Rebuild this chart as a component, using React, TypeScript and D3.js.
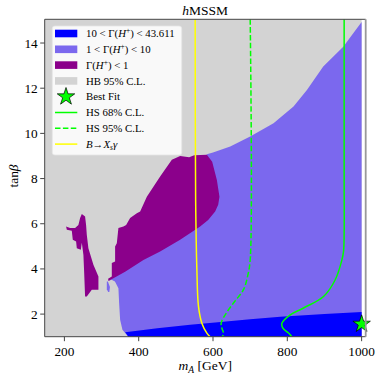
import React from 'react';
import * as d3 from 'd3';

type Pt = [number, number];

const width = 381;
const height = 382;
const margin = { top: 19.3, right: 15.3, bottom: 45.3, left: 44.7 };

const xTicks = [200, 400, 600, 800, 1000];
const yTicks = [2, 4, 6, 8, 10, 12, 14];

// HB 95% C.L. excluded (grey background)
const hbRegion: Pt[] = [[147, 1], [147, 15.05], [1000, 15.05], [1000, 1]];

// 1 < Gamma(H+) < 10
const midWidth: Pt[] = [
  [1000, 1], [1000, 14.93], [950.6, 13.84], [896.7, 12.96], [852.8, 11.92], [816.7, 11.19],
  [762.9, 10.45], [700, 9.86], [646.4, 9.42], [600, 9.15], [583.5, 9.08],
  [570, 8.5], [480, 7.0], [400, 5.0], [330, 3.6], [318.5, 3.47],
  [326.9, 3.52], [336.1, 3.44], [345.4, 3.15], [347.3, 2.49], [350, 1.75],
  [356.2, 1.31], [363.5, 1.16], [372.4, 1],
];
const midWidthBlip: Pt[] = [
  [314.2, 3.44], [317, 3.44], [322.6, 3.2], [321, 2.98], [318, 2.98], [314.2, 3.1],
];

// 10 < Gamma(H+) < 43.611
const highWidth: Pt[] = [
  [372.4, 1], [363.5, 1.195], [450, 1.37], [538.5, 1.527], [605.9, 1.628],
  [700, 1.77], [781, 1.88], [900, 2.0], [1000, 2.09], [1000, 1],
];

// Gamma(H+) < 1
const lowWidth: Pt[] = [
  [489.2, 8.83], [511.6, 9.0], [535.8, 8.94], [549.3, 9.03], [583.5, 9.05],
  [597.8, 8.74], [610.4, 7.94], [617.4, 7.2], [614, 6.84], [605.8, 6.54],
  [587, 6.17], [565.4, 5.88], [511.6, 5.29], [457.7, 4.77], [412.7, 4.4],
  [363.5, 3.87], [318.5, 3.47], [317.7, 3.56], [327.6, 3.66], [327.6, 4.26],
  [336.5, 4.33], [336.5, 4.99], [341.1, 5.14], [345.4, 5.81], [358.9, 5.88],
  [366.2, 5.95], [376.9, 6.25], [395, 6.47], [403.9, 6.54], [421.9, 7.2],
  [457.7, 8.09],
];
const lowWidthIsland: Pt[] = [
  [204.6, 5.88], [206.5, 5.73], [219.9, 5.69], [222.6, 5.29], [231.5, 5.21],
  [233.4, 4.92], [244.2, 4.85], [246.9, 5.16], [251.2, 4.62], [253.1, 3.89],
  [255.7, 2.78], [260.3, 2.78], [273.8, 3.08], [291.6, 3.08], [291.6, 3.66],
  [278.1, 4.18], [264.6, 4.92], [260.3, 5.51], [258.4, 5.95], [255.7, 6.32],
  [246.9, 6.43], [242.3, 6.25], [237.7, 5.95], [228.8, 5.81], [215.4, 5.81],
];

// HS 68% / 95% contours and B -> X_s gamma
const hs68: Pt[] = [
  [953, 15.05], [953, 8], [953, 5.6], [951.5, 4.8], [947, 4.4], [929, 3.52],
  [897.5, 2.78], [843.7, 2.27], [808, 1.97], [785.5, 1.6], [788.2, 1.38],
  [803.3, 1.16], [812.4, 1],
];
const hs95: Pt[] = [
  [700.1, 15.05], [700.1, 4.4], [692.8, 3.66], [682, 3.08], [655.1, 2.49],
  [632.8, 1.97], [622, 1.6], [623.9, 1.38], [628.2, 1.16], [625.5, 1],
];
const bsg: Pt[] = [
  [552, 15.05], [553.3, 7.06], [556.6, 3.96], [560.9, 2.34], [570, 1.6],
  [583.5, 1.16], [592.4, 1],
];

const bestFit: Pt = [1000, 1.56];

const C = {
  high: '#0000ff',
  mid: '#7b68ee',
  low: '#8b008b',
  hb: '#d3d3d3',
  hs: '#00ff00',
  bsg: '#ffff00',
};

const serif = '"Liberation Serif", "DejaVu Serif", serif';

export default function App() {
  const x = d3.scaleLinear().domain([147, 1011]).range([margin.left, width - margin.right]);
  const y = d3.scaleLinear().domain([1, 15.05]).range([height - margin.bottom, margin.top]);
  const area = d3.line<Pt>().x((d) => x(d[0])).y((d) => y(d[1]));
  const curve = d3.line<Pt>().x((d) => x(d[0])).y((d) => y(d[1])).curve(d3.curveCatmullRom);
  const poly = (p: Pt[]) => (area(p) || '') + 'Z';

  const x0 = margin.left;
  const x1 = width - margin.right;
  const y0 = height - margin.bottom;
  const y1 = margin.top;

  const star = d3.symbol().type(d3.symbolStar).size(95)();

  const legendRows = [
    { kind: 'patch', color: C.high },
    { kind: 'patch', color: C.mid },
    { kind: 'patch', color: C.low },
    { kind: 'patch', color: C.hb },
    { kind: 'star' },
    { kind: 'line', color: C.hs },
    { kind: 'line', color: C.hs, dash: '5.5,2.4' },
    { kind: 'line', color: C.bsg },
  ];
  const labels: React.ReactNode[] = [
    <>10 &lt; Γ(<tspan fontStyle="italic">H</tspan><tspan dy={-4} fontSize={7.5}>+</tspan><tspan dy={4}>) &lt; 43.611</tspan></>,
    <>1 &lt; Γ(<tspan fontStyle="italic">H</tspan><tspan dy={-4} fontSize={7.5}>+</tspan><tspan dy={4}>) &lt; 10</tspan></>,
    <>Γ(<tspan fontStyle="italic">H</tspan><tspan dy={-4} fontSize={7.5}>+</tspan><tspan dy={4}>) &lt; 1</tspan></>,
    <>HB 95% C.L.</>,
    <>Best Fit</>,
    <>HS 68% C.L.</>,
    <>HS 95% C.L.</>,
    <><tspan fontStyle="italic">B</tspan>→<tspan fontStyle="italic">X</tspan><tspan fontStyle="italic" dy={2.5} fontSize={7.5}>s</tspan><tspan fontStyle="italic" dy={-2.5}>γ</tspan></>,
  ];

  return (
    <svg width={width} height={height} style={{ position: 'absolute', left: 0, top: 0 }} fontFamily={serif}>
      <rect width={width} height={height} fill="#fff" />
      <defs>
        <clipPath id="plot">
          <rect x={x0} y={y1} width={x1 - x0} height={y0 - y1} />
        </clipPath>
      </defs>
      <g clipPath="url(#plot)">
        <path d={poly(hbRegion)} fill={C.hb} />
        <path d={poly(midWidth)} fill={C.mid} />
        <path d={poly(midWidthBlip)} fill={C.mid} />
        <path d={poly(highWidth)} fill={C.high} />
        <path d={poly(lowWidth)} fill={C.low} />
        <path d={poly(lowWidthIsland)} fill={C.low} />
        <path d={curve(bsg) || ''} fill="none" stroke={C.bsg} strokeWidth={1.5} />
        <path d={curve(hs95) || ''} fill="none" stroke={C.hs} strokeWidth={1.5} strokeDasharray="5.5,2.4" />
        <path d={curve(hs68) || ''} fill="none" stroke={C.hs} strokeWidth={1.5} />
      </g>
      <path d={star || ''} transform={`translate(${x(bestFit[0])},${y(bestFit[1])})`} fill={C.hs} stroke="#000" strokeWidth={0.7} />

      {/* frame */}
      <line x1={x0} x2={x1} y1={y1} y2={y1} stroke="#444" strokeWidth={1} />
      <line x1={x0} x2={x0} y1={y1} y2={y0} stroke="#444" strokeWidth={1} />
      <line x1={x0} x2={x1} y1={y0} y2={y0} stroke="#444" strokeWidth={1} />
      <line x1={x1} x2={x1} y1={y1} y2={y0} stroke="#999" strokeWidth={1.8} />

      {xTicks.map((t) => (
        <g key={t} transform={`translate(${x(t)},${y0})`}>
          <line y2={4.5} stroke="#444" />
          <text y={19} textAnchor="middle" fontSize={13.3}>{t}</text>
        </g>
      ))}
      {yTicks.map((t) => (
        <g key={t} transform={`translate(${x0},${y(t)})`}>
          <line x2={-4.5} stroke="#444" />
          <text x={-7} dy="0.34em" textAnchor="end" fontSize={13.3}>{t}</text>
        </g>
      ))}

      <text x={(x0 + x1) / 2} y={14.5} textAnchor="middle" fontSize={13.5}>
        <tspan fontStyle="italic">h</tspan>MSSM
      </text>
      <text x={(x0 + x1) / 2} y={370} textAnchor="middle" fontSize={13.5}>
        <tspan fontStyle="italic">m</tspan><tspan fontStyle="italic" fontSize={9.5} dy={3}>A</tspan><tspan dy={-3}> [GeV]</tspan>
      </text>
      <text transform={`translate(18,176) rotate(-90)`} textAnchor="middle" fontSize={13.5}>
        tan<tspan fontStyle="italic">β</tspan>
      </text>

      {/* legend */}
      <rect x={52.3} y={26} width={129.4} height={129} rx={2.5} fill="#fff" fillOpacity={0.85} stroke="#e6e6e6" strokeWidth={0.8} />
      {legendRows.map((r, i) => {
        const cy = 33.5 + i * 15.8;
        return (
          <g key={i}>
            {r.kind === 'patch' && <rect x={55} y={cy - 3.8} width={22.3} height={7.6} fill={r.color} />}
            {r.kind === 'line' && (
              <line x1={55} x2={77.3} y1={cy} y2={cy} stroke={r.color} strokeWidth={1.5} strokeDasharray={r.dash} />
            )}
            {r.kind === 'star' && (
              <path d={star || ''} transform={`translate(66,${cy})`} fill={C.hs} stroke="#000" strokeWidth={0.7} />
            )}
            <text x={86} y={cy} dy="0.35em" fontSize={10.8}>{labels[i]}</text>
          </g>
        );
      })}
    </svg>
  );
}
